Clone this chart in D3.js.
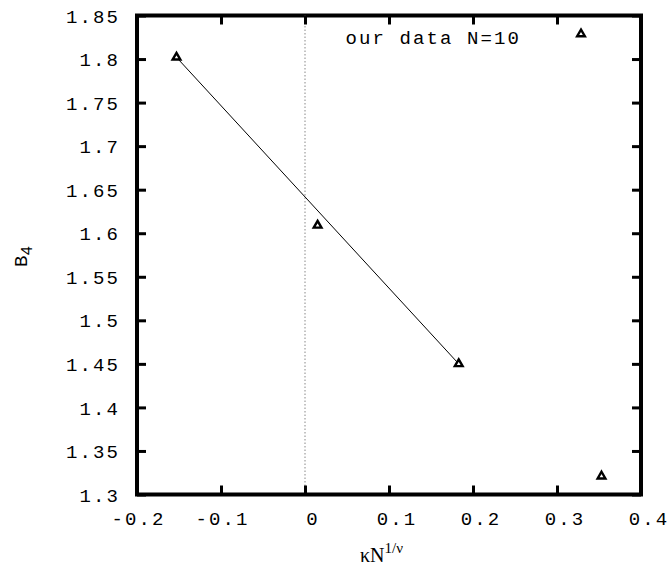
<!DOCTYPE html>
<html>
<head>
<meta charset="utf-8">
<script src="https://cdn.jsdelivr.net/npm/d3@7"></script>
<style>
  html, body { margin: 0; padding: 0; background: #fff; }
  svg { display: block; }
  .mono { font-family: "Liberation Mono", "DejaVu Sans Mono", monospace; }
</style>
</head>
<body>
<svg id="chart" width="671" height="568"></svg>
<script>
// ---- data ----
const seriesName = "our data N=10";
const xValues = [-0.153, 0.015, 0.183, 0.353];
const yValues = [1.802, 1.609, 1.450, 1.321];
const fitX = [-0.153, 0.183];
const fitY = [1.802, 1.450];
const xTicks = [-0.2, -0.1, 0, 0.1, 0.2, 0.3, 0.4];
const yTicks = [1.3, 1.35, 1.4, 1.45, 1.5, 1.55, 1.6, 1.65, 1.7, 1.75, 1.8, 1.85];
const xDomain = [-0.2, 0.4];
const yDomain = [1.3, 1.85];

// ---- layout ----
const L = 137, R = 641, T = 15.5, B = 494.5;
const svg = d3.select("#chart");
const x = d3.scaleLinear().domain(xDomain).range([L, R]);
const y = d3.scaleLinear().domain(yDomain).range([B, T]);

const fontSize = 19;
const letterSp = 2.1;
const fmtPlain = d => String(+d.toFixed(2));
const tickLen = 9, tickW = 3, frameW = 4;

svg.append("path")
  .attr("d", `M${L},${T}H${R}V${B}H${L}Z`)
  .attr("fill", "none").attr("stroke", "#000").attr("stroke-width", frameW);

svg.append("line")
  .attr("x1", x(0)).attr("x2", x(0))
  .attr("y1", T).attr("y2", B)
  .attr("stroke", "#888").attr("stroke-width", 1)
  .attr("stroke-dasharray", "1.5,2");

function styleAxis(g) {
  g.select(".domain").remove();
  g.selectAll(".tick line").attr("stroke", "#000").attr("stroke-width", tickW);
  g.selectAll(".tick text")
    .attr("class", "mono")
    .attr("font-size", fontSize)
    .attr("letter-spacing", letterSp)
    .attr("fill", "#000");
}
const gB = svg.append("g").attr("transform", `translate(0,${B})`)
  .call(d3.axisBottom(x).tickValues(xTicks).tickSizeInner(-tickLen).tickSizeOuter(0).tickPadding(25)
        .tickFormat(d => fmtPlain(d)));
styleAxis(gB);
gB.selectAll(".tick text")
  .attr("dx", d => d >= 0 ? 7.5 : 1)
  .attr("dy", "0.3em");

const gT = svg.append("g").attr("transform", `translate(0,${T})`)
  .call(d3.axisTop(x).tickValues(xTicks).tickSizeInner(-tickLen).tickSizeOuter(0).tickFormat(() => ""));
styleAxis(gT);

const gL = svg.append("g").attr("transform", `translate(${L},0)`)
  .call(d3.axisLeft(y).tickValues(yTicks).tickSizeInner(-tickLen).tickSizeOuter(0).tickPadding(17)
        .tickFormat(d => fmtPlain(d)));
styleAxis(gL);
gL.selectAll(".tick text").attr("dy", "0.35em");

const gR = svg.append("g").attr("transform", `translate(${R},0)`)
  .call(d3.axisRight(y).tickValues(yTicks).tickSizeInner(-tickLen).tickSizeOuter(0).tickFormat(() => ""));
styleAxis(gR);

const fitData = fitX.map((v, i) => [v, fitY[i]]);
svg.append("path")
  .datum(fitData)
  .attr("d", d3.line().x(d => x(d[0])).y(d => y(d[1])))
  .attr("fill", "none").attr("stroke", "#000").attr("stroke-width", 1);

const tri = d3.symbol().type(d3.symbolTriangle).size(26);
const pts = xValues.map((v, i) => [v, yValues[i]]);
svg.selectAll(".pt").data(pts).enter().append("path")
  .attr("class", "pt")
  .attr("transform", d => `translate(${x(d[0])},${y(d[1])})`)
  .attr("d", tri)
  .attr("fill", "#fff").attr("stroke", "#000").attr("stroke-width", 2.4);

svg.append("text")
  .attr("class", "mono")
  .attr("x", 521).attr("y", 44)
  .attr("text-anchor", "end")
  .attr("font-size", fontSize)
  .attr("letter-spacing", letterSp)
  .text(seriesName);
svg.append("path")
  .attr("transform", `translate(581,34)`)
  .attr("d", tri)
  .attr("fill", "#fff").attr("stroke", "#000").attr("stroke-width", 2.4);

const xl = svg.append("text")
  .attr("x", 360).attr("y", 562)
  .attr("font-family", "Liberation Serif, Times New Roman, serif")
  .attr("font-size", 20);
xl.append("tspan").text("\u03BAN");
xl.append("tspan").attr("dy", -9).attr("font-size", 15).text("1/\u03BD");

const yl = svg.append("text")
  .attr("class", "mono")
  .attr("transform", "translate(27,267) rotate(-90)")
  .attr("font-size", 19);
yl.append("tspan").text("B");
yl.append("tspan").attr("dy", 5).attr("font-size", 16).text("4");
</script>
</body>
</html>
